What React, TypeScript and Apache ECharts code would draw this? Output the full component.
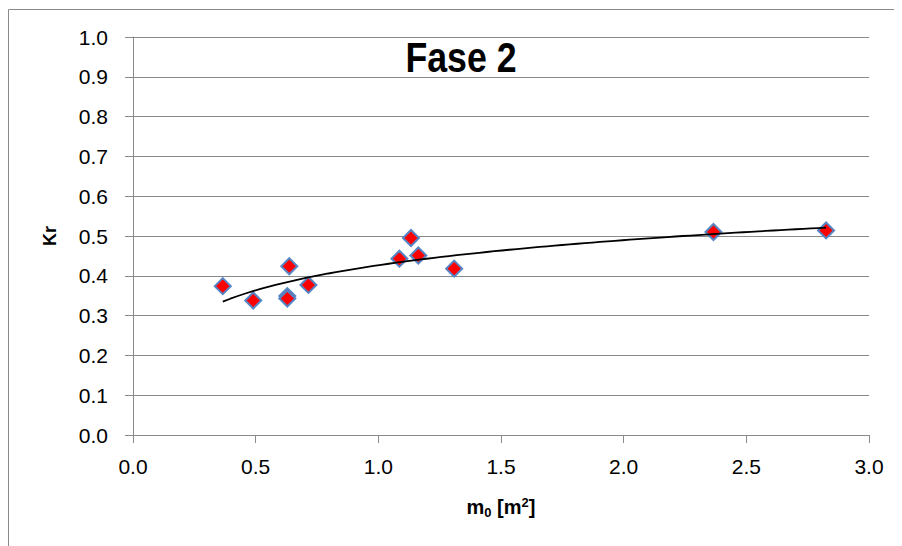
import React, { useEffect, useRef } from "react";
import * as echarts from "echarts";

const xValues = [0.366, 0.49, 0.637, 0.629, 0.629, 0.715, 1.086, 1.133, 1.163, 1.309, 2.366, 2.825];
const yValues = [0.374, 0.338, 0.424, 0.349, 0.343, 0.377, 0.443, 0.495, 0.451, 0.418, 0.51, 0.514];
const titleText = "Fase 2";
const yAxisName = "Kr";

function logFit(xs: number[], ys: number[]) {
  const n = xs.length;
  const lx = xs.map((v) => Math.log(v));
  const mx = lx.reduce((a, b) => a + b, 0) / n;
  const my = ys.reduce((a, b) => a + b, 0) / n;
  let sxx = 0;
  let sxy = 0;
  for (let i = 0; i < n; i++) {
    sxx += (lx[i] - mx) ** 2;
    sxy += (lx[i] - mx) * (ys[i] - my);
  }
  const b = sxy / sxx;
  const a = my - b * mx;
  return { a, b };
}

export default function App() {
  const ref = useRef<HTMLDivElement>(null);
  useEffect(() => {
    if (!ref.current) return;
    document.documentElement.style.overflow = "hidden";
    document.body.style.overflow = "hidden";
    const chart = echarts.init(ref.current, null, { renderer: "svg" });
    const { a, b } = logFit(xValues, yValues);
    const xmin = Math.min(...xValues);
    const xmax = Math.max(...xValues);
    const trend: number[][] = [];
    const steps = 80;
    for (let i = 0; i <= steps; i++) {
      const x = xmin + ((xmax - xmin) * i) / steps;
      trend.push([x, a + b * Math.log(x)]);
    }
    const gray = "#8a8a8a";
    const labelFont = "'Liberation Sans', Arial, sans-serif";
    chart.setOption({
      animation: false,
      backgroundColor: "#ffffff",
      grid: { left: 125, right: 33, top: 29, bottom: 111, containLabel: false },
      graphic: [
        { type: "line", shape: { x1: 0.5, y1: 1.5, x2: 0.5, y2: 540 }, style: { stroke: gray, lineWidth: 1 } },
        { type: "line", shape: { x1: 0.5, y1: 1.5, x2: 894, y2: 1.5 }, style: { stroke: gray, lineWidth: 1 } },
        {
          type: "text",
          x: 453,
          y: 49,
          z: 10,
          scaleX: 0.85,
          scaleY: 1,
          style: {
            text: titleText,
            fontFamily: labelFont,
            fontWeight: "bold",
            fontSize: 42,
            fill: "#000",
            textAlign: "center",
            textVerticalAlign: "middle",
          },
        },
      ],
      xAxis: {
        type: "value",
        min: 0,
        max: 3,
        interval: 0.5,
        name: "{m|m}{sub|0}{m| [m}{sup|2}{m|]}",
        nameLocation: "middle",
        nameGap: 58,
        nameTextStyle: {
          rich: {
            m: { fontSize: 20, fontWeight: "bold", fontFamily: labelFont, color: "#000", lineHeight: 28, verticalAlign: "middle" },
            sub: { fontSize: 13, fontWeight: "bold", fontFamily: labelFont, color: "#000", lineHeight: 28, verticalAlign: "bottom", padding: [0, 0, 2, 0] },
            sup: { fontSize: 13, fontWeight: "bold", fontFamily: labelFont, color: "#000", lineHeight: 28, verticalAlign: "top", padding: [3, 0, 0, 0] },
          },
        },
        axisLine: { show: true, onZero: false, lineStyle: { color: gray, width: 1 } },
        axisTick: { show: true, inside: false, length: 8, lineStyle: { color: gray } },
        splitLine: { show: false },
        axisLabel: {
          margin: 21,
          fontSize: 21,
          fontFamily: labelFont,
          color: "#000",
          formatter: (v: number) => v.toFixed(1),
        },
      },
      yAxis: {
        type: "value",
        min: 0,
        max: 1,
        interval: 0.1,
        name: yAxisName,
        nameLocation: "middle",
        nameGap: 74,
        nameTextStyle: { fontSize: 18, fontWeight: "bold", fontFamily: labelFont, color: "#000" },
        axisLine: { show: true, lineStyle: { color: gray, width: 1 } },
        axisTick: { show: true, inside: false, length: 8, lineStyle: { color: gray } },
        splitLine: { show: true, lineStyle: { color: gray, width: 1 } },
        axisLabel: {
          margin: 25,
          fontSize: 21,
          fontFamily: labelFont,
          color: "#000",
          formatter: (v: number) => v.toFixed(1),
        },
      },
      series: [
        {
          type: "scatter",
          data: xValues.map((x, i) => [x, yValues[i]]),
          symbol: "diamond",
          symbolSize: 16,
          itemStyle: { color: "#ff0000", borderColor: "#5585c5", borderWidth: 2, opacity: 1 },
          z: 2,
        },
        {
          type: "line",
          data: trend,
          showSymbol: false,
          symbol: "none",
          smooth: false,
          lineStyle: { color: "#000", width: 1.8 },
          z: 3,
        },
      ],
    });
    return () => chart.dispose();
  }, []);
  return <div ref={ref} style={{ width: 894, height: 538 }} />;
}
